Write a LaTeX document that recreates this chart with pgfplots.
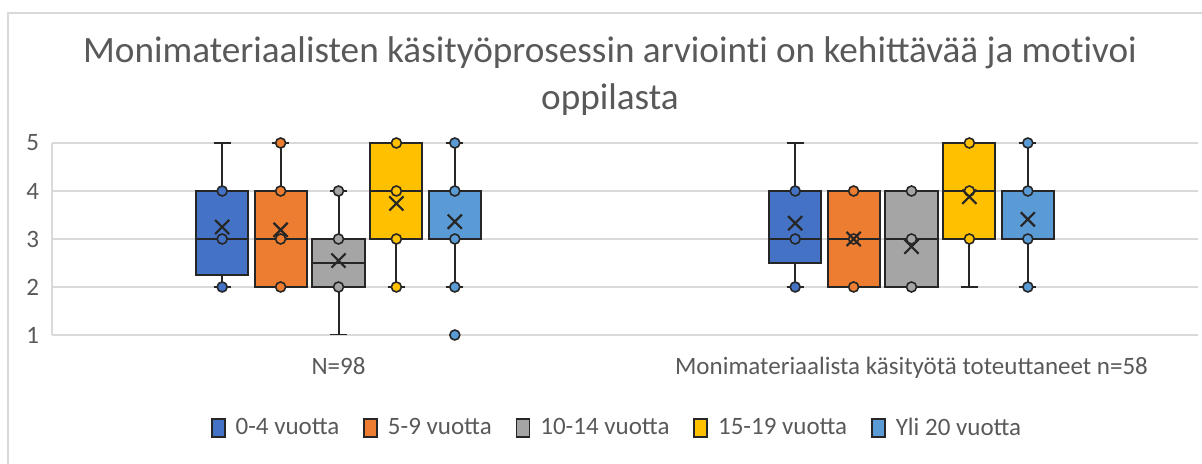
\documentclass[border=0pt]{standalone}
\usepackage{fontspec}
\setmainfont{Carlito}
\usepackage{pgfplots}
\pgfplotsset{compat=1.18}
\usepgfplotslibrary{statistics}

\definecolor{cA}{HTML}{4472C4}
\definecolor{cB}{HTML}{ED7D31}
\definecolor{cC}{HTML}{A5A5A5}
\definecolor{cD}{HTML}{FFC000}
\definecolor{cE}{HTML}{5B9BD5}
\definecolor{gridc}{HTML}{D9D9D9}
\definecolor{txt}{HTML}{595959}
\definecolor{edge}{HTML}{262626}

\pgfplotsset{
  bx/.style={boxplot prepared={draw position=#1}, draw=edge, line width=1pt, forget plot},
  pts/.style={only marks, mark=*, mark size=2.5pt, mark options={fill=#1, draw=edge, line width=0.8pt}, forget plot},
}

\begin{document}
\begin{tikzpicture}
\draw[gridc, line width=0.6pt] (4pt,0pt) -- (4pt,225.5pt) -- (601pt,225.5pt);
\node[align=center, text=txt, font=\fontsize{18.6}{23.5}\selectfont] at (305pt,194pt)
  {Monimateriaalisten käsityöprosessin arvioint\kern0pt i on kehittävää ja mot\kern0pt ivoi\\oppilasta};
\begin{axis}[
  at={(26pt,64.5pt)}, anchor=south west,
  scale only axis, width=573pt, height=96pt,
  xmin=-0.5, xmax=1.5, ymin=1, ymax=5,
  xtick={0,1},
  xticklabels={N=98, Monimateriaalista käsityötä toteuttaneet n=58},
  ytick={1,2,3,4,5},
  /pgf/number format/assume math mode=true,
  tick label style={font=\fontsize{12.5}{14}\selectfont, text=txt},
  xticklabel style={yshift=-7.5pt},
  yticklabel style={xshift=-3pt},
  tick style={draw=none},
  ymajorgrids, grid style={gridc, line width=0.6pt},
  axis x line*=bottom, axis y line*=left,
  axis line style={-, draw=gridc, line width=0.6pt},
  boxplot/draw direction=y,
  boxplot/box extend=0.091,
  boxplot/whisker extend=0.03,
  legend columns=5,
  legend style={at={(0.494,-0.485)}, anchor=center, draw=none, fill=none,
    font=\fontsize{12.5}{14}\selectfont, text=txt,
    /tikz/every odd column/.append style={column sep=3pt},
    /tikz/every even column/.append style={column sep=10pt}},
  legend image code/.code={\draw[#1, line width=0.8pt] (0pt,-4.5pt) rectangle (6.5pt,4.5pt);},
]
% N=98
\addplot[bx=-0.203, fill=cA, boxplot prepared={lower whisker=2, lower quartile=2.25, median=3, upper quartile=4, upper whisker=5}] coordinates {};
\addplot[bx=-0.101, fill=cB, boxplot prepared={lower whisker=2, lower quartile=2, median=3, upper quartile=4, upper whisker=5}] coordinates {};
\addplot[bx=0, fill=cC, boxplot prepared={lower whisker=1, lower quartile=2, median=2.5, upper quartile=3, upper whisker=4}] coordinates {};
\addplot[bx=0.101, fill=cD, boxplot prepared={lower whisker=2, lower quartile=3, median=4, upper quartile=5, upper whisker=5}] coordinates {};
\addplot[bx=0.203, fill=cE, boxplot prepared={lower whisker=2, lower quartile=3, median=3, upper quartile=4, upper whisker=5}] coordinates {};
% n=58
\addplot[bx=0.797, fill=cA, boxplot prepared={lower whisker=2, lower quartile=2.5, median=3, upper quartile=4, upper whisker=5}] coordinates {};
\addplot[bx=0.899, fill=cB, boxplot prepared={lower whisker=2, lower quartile=2, median=3, upper quartile=4, upper whisker=4}] coordinates {};
\addplot[bx=1, fill=cC, boxplot prepared={lower whisker=2, lower quartile=2, median=3, upper quartile=4, upper whisker=4}] coordinates {};
\addplot[bx=1.101, fill=cD, boxplot prepared={lower whisker=2, lower quartile=3, median=4, upper quartile=5, upper whisker=5}] coordinates {};
\addplot[bx=1.203, fill=cE, boxplot prepared={lower whisker=2, lower quartile=3, median=3, upper quartile=4, upper whisker=5}] coordinates {};

% inner points and outliers
\addplot[pts=cA] coordinates {(-0.203,2) (-0.203,3) (-0.203,4) (0.797,2) (0.797,3) (0.797,4)};
\addplot[pts=cB] coordinates {(-0.101,2) (-0.101,3) (-0.101,4) (-0.101,5) (0.899,2) (0.899,3) (0.899,4)};
\addplot[pts=cC] coordinates {(0,2) (0,3) (0,4) (1,2) (1,3) (1,4)};
\addplot[pts=cD] coordinates {(0.101,2) (0.101,3) (0.101,4) (0.101,5) (1.101,3) (1.101,4) (1.101,5)};
\addplot[pts=cE] coordinates {(0.203,1) (0.203,2) (0.203,3) (0.203,4) (0.203,5) (1.203,2) (1.203,3) (1.203,4) (1.203,5)};

% averages
\addplot[only marks, mark=x, mark size=5pt, mark options={draw=edge, line width=1.1pt}, forget plot] coordinates {
  (-0.203,3.25) (-0.101,3.19) (0,2.55) (0.101,3.74) (0.203,3.36)
  (0.797,3.33) (0.899,3.0) (1,2.84) (1.101,3.88) (1.203,3.41)};

\addlegendimage{fill=cA, draw=edge}
\addlegendentry{0-4 vuotta}
\addlegendimage{fill=cB, draw=edge}
\addlegendentry{5-9 vuotta}
\addlegendimage{fill=cC, draw=edge}
\addlegendentry{10-14 vuotta}
\addlegendimage{fill=cD, draw=edge}
\addlegendentry{15-19 vuotta}
\addlegendimage{fill=cE, draw=edge}
\addlegendentry{Yli 20 vuotta}
\end{axis}
\pgfresetboundingbox
\useasboundingbox (0pt,0pt) rectangle (601pt,232pt);
\end{tikzpicture}
\end{document}
